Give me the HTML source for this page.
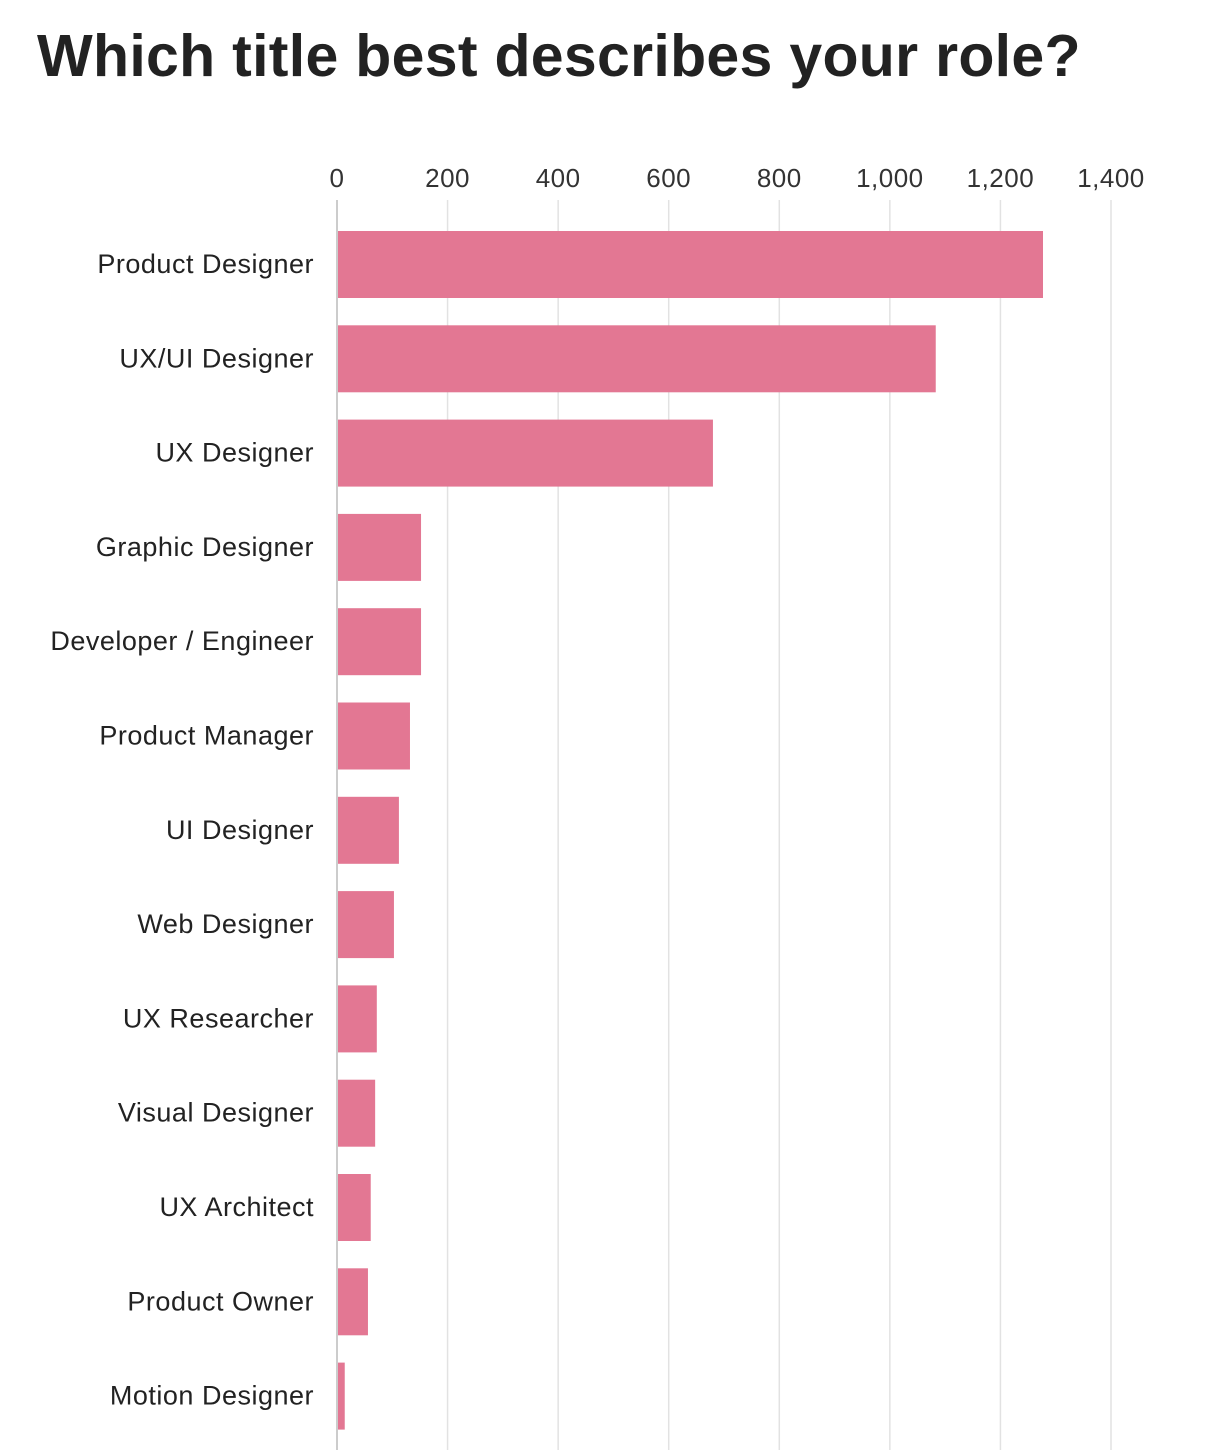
<!DOCTYPE html>
<html><head><meta charset="utf-8">
<style>
body{margin:0;background:#fff;width:1210px;height:1450px;overflow:hidden;font-family:"Liberation Sans",sans-serif;}
h1{position:absolute;left:37px;top:22px;margin:0;font-size:59px;font-weight:900;letter-spacing:0.3px;color:#222;}
svg{position:absolute;left:0;top:0;}
</style></head><body>
<h1>Which title best describes your role?</h1>
<svg id="chart" width="1210" height="1450"></svg>
<script>
const categories=["Product Designer","UX/UI Designer","UX Designer","Graphic Designer","Developer / Engineer","Product Manager","UI Designer","Web Designer","UX Researcher","Visual Designer","UX Architect","Product Owner","Motion Designer"];
const values=[1277,1083,680,152,152,132,112,103,72,69,61,56,14];
const ticks=[0,200,400,600,800,1000,1200,1400];
const tickLabels=["0","200","400","600","800","1,000","1,200","1,400"];
const svg=document.getElementById('chart');
const NS="http://www.w3.org/2000/svg";
const x=v=>337+v*(1111-337)/1400;
const rowY=i=>231+i*94.3;
function mk(t,a){const e=document.createElementNS(NS,t);for(const k in a)e.setAttribute(k,a[k]);svg.appendChild(e);return e;}
ticks.forEach((t,i)=>{
  const l=mk('line',{x1:x(t),x2:x(t),y1:200,y2:1450,stroke:i==0?'#bbb':'#e2e2e2','stroke-width':1.5});
  
  
  const tx=mk('text',{x:x(t),y:187,'text-anchor':'middle','font-size':26,'letter-spacing':0.5,fill:'#333'});
  tx.textContent=tickLabels[i];
  
  
});
categories.forEach((c,i)=>{
  const r=mk('rect',{x:x(0)+1,y:rowY(i),width:x(values[i])-x(0)-1,height:67,fill:'#e37793'});
  
  
  const t=mk('text',{x:314,y:rowY(i)+42,'text-anchor':'end','font-size':27,'letter-spacing':0.5,fill:'#222'});
  t.textContent=c;
  
  
});
</script>
</body></html>
